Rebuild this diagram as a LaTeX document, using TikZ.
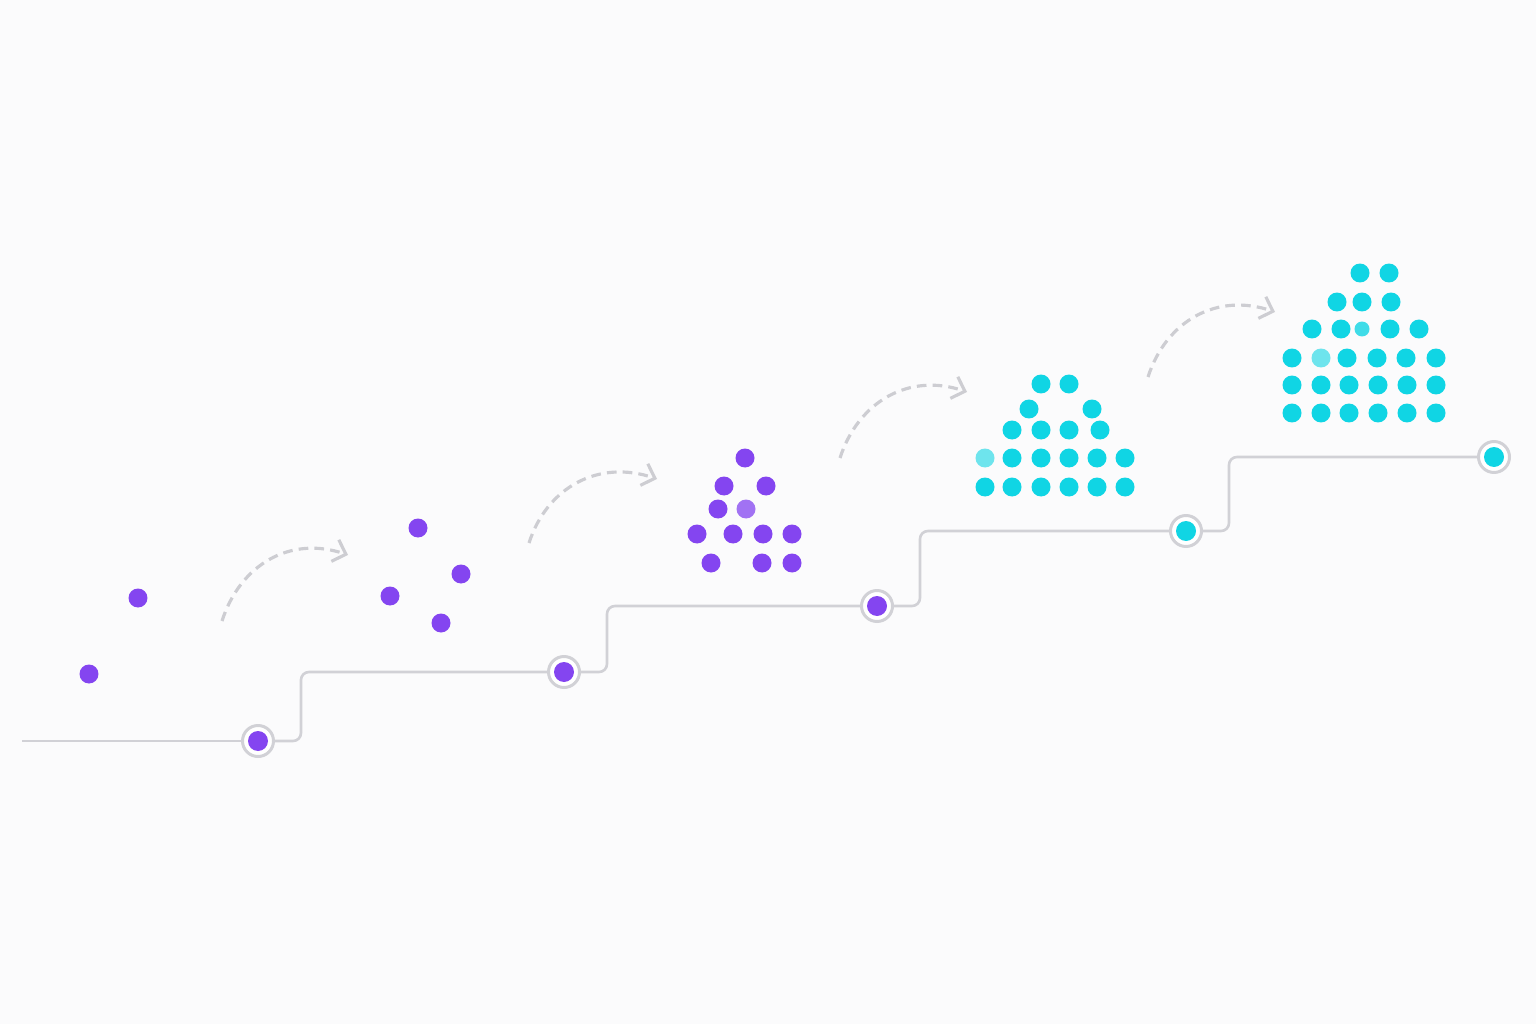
\documentclass[tikz,border=0pt]{standalone}
\usetikzlibrary{arrows.meta}
\definecolor{bgcol}{HTML}{FBFBFC}
\definecolor{trackgray}{HTML}{D1D1D6}
\definecolor{dashgray}{HTML}{CDCDD2}
\definecolor{dotpurple}{HTML}{8445F0}
\definecolor{dotcyan}{HTML}{10D5E4}
\newcommand{\beadSize}[0]{0.38cm}

\begin{document}
\begin{tikzpicture}[x=0.02cm, y=-0.02cm]
  \tikzset{
    bead/.style={circle, fill=#1, inner sep=0pt, minimum size=\beadSize},
    faint/.style={opacity=0.6},
    milestone/.style={circle, draw=trackgray, line width=1.7pt, fill=white, inner sep=0pt, minimum size=0.62cm},
    track/.style={draw=trackgray, line width=1.5pt, rounded corners=0.16cm},
    hop/.style={draw=dashgray, line width=1.8pt, dash pattern=on 5.5pt off 3.5pt,
      -{Straight Barb[length=6.5pt, width=13pt, line width=1.8pt]}}
  }
  \useasboundingbox (0,0) rectangle (1536,1024);
  \fill[bgcol] (0,0) rectangle (1536,1024);

  \foreach \x/\y [count=\k] in {258/741,564/672,877/606,1186/531,1494/457}
    \node[milestone] (m\k) at (\x,\y) {};
  \coordinate (start) at (22,741);
  \draw[track] (start) -- (m1.west);
  \foreach \i/\j in {1/2,2/3,3/4,4/5}
    \draw[track] (m\i.east) -- ++(26,0) |- (m\j.west);
  \foreach \k in {1,2,3} \node[bead=dotpurple, minimum size=0.4cm] (c\k) at (m\k) {};
  \foreach \k in {4,5} \node[bead=dotcyan, minimum size=0.4cm] (c\k) at (m\k) {};

  \foreach \x/\y/\u/\v [count=\k] in {222/621/348/555,529/543/657/479,840/458/967/392,1148/377/1275/312}
  {
    \coordinate (h\k a) at (\x,\y);
    \coordinate (h\k b) at (\u,\v);
    \draw[hop] (h\k a) .. controls +(18,-56) and +(-58,-20) .. (h\k b);
  }

  \foreach \x/\y [count=\k] in {89/674,138/598,
      418/528,461/574,390/596,441/623,
      745/458,724/486,766/486,718/509,697/534,733/534,763/534,792/534,711/563,762/563,792/563}
    \node[bead=dotpurple] (p\k) at (\x,\y) {};
  \node[bead=dotpurple, opacity=0.75] (pf) at (746,509) {};

  \foreach \x/\y [count=\k] in {1041/384,1069/384,1029/409,1092/409,
      1012/430,1041/430,1069/430,1100/430,
      1012/458,1041/458,1069/458,1097/458,1125/458,
      985/487,1012/487,1041/487,1069/487,1097/487,1125/487,
      1360/273,1389/273,1337/302,1362/302,1391/302,
      1312/329,1341/329,1390/329,1419/329,
      1292/358,1347/358,1377/358,1406/358,1436/358,
      1292/385,1321/385,1349/385,1378/385,1407/385,1436/385,
      1292/413,1321/413,1349/413,1378/413,1407/413,1436/413}
    \node[bead=dotcyan] (q\k) at (\x,\y) {};
  \node[bead=dotcyan, faint] (qf1) at (985,458) {};
  \node[bead=dotcyan, opacity=0.8, minimum size=0.3cm] (qf2) at (1362,329) {};
  \node[bead=dotcyan, faint] (qf3) at (1321,358) {};
\end{tikzpicture}
\end{document}
